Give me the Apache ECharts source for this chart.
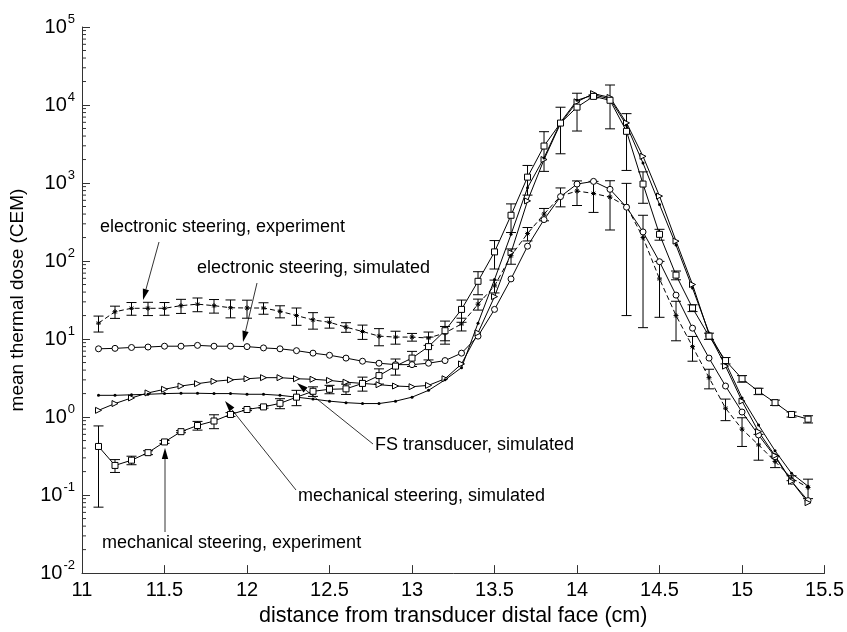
<!DOCTYPE html>
<html>
<head>
<meta charset="utf-8">
<title>mean thermal dose</title>
<script src="https://cdn.jsdelivr.net/npm/echarts@6.0.0/dist/echarts.min.js"></script>
<style>
  html, body { margin: 0; padding: 0; background: #fff; }
  #chart { width: 847px; height: 632px; }
</style>
</head>
<body>
<div id="chart"></div>
<script>
// distance from transducer distal face (cm)
var xs = [11.1, 11.2, 11.3, 11.4, 11.5, 11.6, 11.7, 11.8, 11.9, 12.0,
  12.1, 12.2, 12.3, 12.4, 12.5, 12.6, 12.7, 12.8, 12.9, 13.0,
  13.1, 13.2, 13.3, 13.4, 13.5, 13.6, 13.7, 13.8, 13.9, 14.0,
  14.1, 14.2, 14.3, 14.4, 14.5, 14.6, 14.7, 14.8, 14.9, 15.0,
  15.1, 15.2, 15.3, 15.4]

// electronic steering, experiment (mean, sd)
var elecExp = [16, 22.4, 24.8, 24.8, 24.8, 26.8, 28, 26.8, 25.2, 25,
  25, 22.7, 20, 17.6, 16.4, 14.2, 12.5, 10.9, 10.6, 10.6,
  10.3, 12, 15.6, 28, 48, 117, 225, 400, 680, 790,
  735, 660, 505, 200, 59, 20, 8, 3.2, 1.3, 0.7,
  0.44, 0.27, 0.165, 0.125]
var elecExpSd = [3.7, 4, 4.6, 4.8, 4.6, 5.5, 5.6, 5.3, 6.5, 6.5,
  4.2, 4, 5, 4.2, 2.6, 2, 2.6, 2.7, 2, 1.2,
  2, 2.5, 2.9, 4.5, 9, 26, 44, 72, 185, 275,
  315, 410, 485, 186, 40, 10.5, 2.8, 0.9, 0.4, 0.28,
  0.16, 0.045, 0.012, 0.035]

// electronic steering, simulated
var elecSim = [7.5, 7.6, 7.8, 7.9, 8.1, 8.1, 8.3, 8.1, 8.1, 8.0,
  7.7, 7.5, 7.1, 6.6, 6.2, 5.7, 5.2, 4.9, 4.7, 4.7,
  4.9, 5.3, 6.6, 10.9, 24, 59, 155, 340, 670, 970,
  1050, 830, 490, 236, 98, 36.6, 13.8, 5.7, 2.5, 1.16,
  0.59, 0.31, 0.15, 0.085]

// FS transducer, simulated
var fsSim = [1.22, 1.49, 1.76, 2.04, 2.27, 2.5, 2.68, 2.87, 3.0, 3.1,
  3.2, 3.2, 3.1, 3.05, 2.95, 2.8, 2.7, 2.6, 2.5, 2.45,
  2.55, 3.1, 4.8, 12, 35, 128, 590, 2000, 5800, 11000,
  14000, 12500, 5900, 2200, 680, 180, 50, 11.5, 4.5, 1.6,
  0.65, 0.32, 0.15, 0.08]

// mechanical steering, simulated
var mechSim = [1.9, 1.9, 1.93, 1.96, 2.0, 2.02, 2.02, 2.0, 2.0, 1.96,
  1.96, 1.9, 1.8, 1.7, 1.6, 1.53, 1.49, 1.49, 1.6, 1.8,
  2.2, 3.0, 4.3, 16, 58, 220, 870, 2100, 6000, 11500,
  13500, 12000, 5500, 1800, 530, 160, 45, 12, 5.0, 1.76,
  0.79, 0.37, 0.19, 0.13]

// mechanical steering, experiment (mean, sd)
var mechExp = [0.42, 0.24, 0.28, 0.35, 0.48, 0.65, 0.78, 0.89, 1.08, 1.25,
  1.35, 1.5, 1.8, 2.14, 2.27, 2.3, 2.7, 3.4, 4.5, 5.7,
  8.0, 12.8, 24, 55, 131, 386, 1190, 2980, 5870, 9400,
  12900, 11500, 4600, 970, 220, 66, 25, 10.9, 5.3, 3.1,
  2.14, 1.53, 1.08, 0.94]
var mechExpSd = [0.35, 0.045, 0.035, 0.02, 0.02, 0.02, 0.1, 0.18, 0.06, 0.04,
  0.05, 0.22, 0.4, 0.3, 0.28, 0.35, 0.55, 0.75, 1.05, 1.25,
  2.6, 4.2, 7.6, 18, 52, 154, 490, 1570, 3500, 4760,
  600, 6550, 3150, 420, 35, 8.5, 2.5, 1, 0.5, 0.3,
  0.2, 0.12, 0.08, 0.1]

var xTicks = [11, 11.5, 12, 12.5, 13, 13.5, 14, 14.5, 15, 15.5]
var yMin = 1e-2, yMax = 1e5

var chart = echarts.init(document.getElementById('chart'))
var font = 'Liberation Sans, Arial, Helvetica, sans-serif'

function pairs (vals) {
  return xs.map(function (x, i) { return [x, vals[i]] })
}

function lineSeries (name, vals, extra) {
  var s = {
    name: name,
    type: 'line',
    data: pairs(vals),
    showAllSymbol: true,
    symbolSize: 6,
    lineStyle: { color: '#000', width: 1 },
    itemStyle: { color: '#fff', borderColor: '#000', borderWidth: 1 },
    emphasis: { disabled: true },
    animation: false,
    z: 3
  }
  for (var k in extra) s[k] = extra[k]
  return s
}

// error bars drawn through the axis scales
function errSeries (vals, sds) {
  return {
    type: 'custom',
    data: xs.map(function (x, i) {
      return [x, Math.max(vals[i] - sds[i], yMin), vals[i] + sds[i]]
    }),
    encode: { x: 0, y: [1, 2] },
    silent: true,
    animation: false,
    z: 2,
    renderItem: function (params, api) {
      var top = api.coord([api.value(0), api.value(2)])
      var bot = api.coord([api.value(0), api.value(1)])
      var w = 5
      var st = { stroke: '#000', lineWidth: 1 }
      return {
        type: 'group',
        children: [
          { type: 'line', shape: { x1: top[0], y1: top[1], x2: bot[0], y2: bot[1] }, style: st },
          { type: 'line', shape: { x1: top[0] - w, y1: top[1], x2: top[0] + w, y2: top[1] }, style: st },
          { type: 'line', shape: { x1: bot[0] - w, y1: bot[1], x2: bot[0] + w, y2: bot[1] }, style: st }
        ]
      }
    }
  }
}

// minor log ticks 2..9 on the y axis
var minorVals = []
for (var e = -2; e < 5; e++) {
  for (var m = 2; m <= 9; m++) minorVals.push(m * Math.pow(10, e))
}

var minorTickSeries = {
  type: 'custom',
  data: minorVals.map(function (v) { return [11, v] }),
  silent: true,
  animation: false,
  clip: false,
  renderItem: function (params, api) {
    var p = api.coord([api.value(0), api.value(1)])
    return {
      type: 'line',
      shape: { x1: p[0], y1: p[1], x2: p[0] + 4, y2: p[1] },
      style: { stroke: '#333', lineWidth: 1 }
    }
  }
}

// annotations: text + arrow (pixel layout)
var notes = [
  { text: 'electronic steering, experiment', x: 100, y: 229, from: [159, 242], to: [143, 300] },
  { text: 'electronic steering, simulated', x: 197, y: 270, from: [257, 283], to: [243, 342] },
  { text: 'FS transducer, simulated', x: 375, y: 447, from: [373, 444], to: [297, 383] },
  { text: 'mechanical steering, simulated', x: 298, y: 498, from: [296, 490], to: [225, 401] },
  { text: 'mechanical steering, experiment', x: 102, y: 545, from: [165, 532], to: [165, 448] }
]

var graphics = []
notes.forEach(function (n) {
  graphics.push({
    type: 'text', left: n.x, top: n.y - 11, z: 10,
    style: { text: n.text, font: '18px ' + font, fill: '#000' }
  })
  var dx = n.to[0] - n.from[0], dy = n.to[1] - n.from[1]
  var len = Math.sqrt(dx * dx + dy * dy)
  var ux = dx / len, uy = dy / len
  var hl = 11, hw = 3.2
  var bx = n.to[0] - ux * hl, by = n.to[1] - uy * hl
  graphics.push({
    type: 'line', z: 10,
    shape: { x1: n.from[0], y1: n.from[1], x2: bx, y2: by },
    style: { stroke: '#000', lineWidth: 0.8 }
  })
  graphics.push({
    type: 'polygon', z: 10,
    shape: { points: [n.to, [bx - uy * hw, by + ux * hw], [bx + uy * hw, by - ux * hw]] },
    style: { fill: '#000' }
  })
})

chart.setOption({
  backgroundColor: '#fff',
  animation: false,
  grid: { left: 82, right: 20, top: 27, bottom: 57 },
  xAxis: {
    type: 'value',
    min: 11,
    max: 15.5,
    interval: 0.5,
    name: 'distance from transducer distal face (cm)',
    nameLocation: 'middle',
    nameGap: 31,
    nameTextStyle: { fontFamily: font, fontSize: 21.5, color: '#000' },
    axisLine: { lineStyle: { color: '#333', width: 1 } },
    axisTick: { inside: true, length: 8, lineStyle: { color: '#333' } },
    axisLabel: {
      margin: 7, fontFamily: font, fontSize: 20, color: '#000',
      customValues: xTicks
    },
    splitLine: { show: false }
  },
  yAxis: {
    type: 'log',
    logBase: 10,
    min: yMin,
    max: yMax,
    name: 'mean thermal dose (CEM)',
    nameLocation: 'middle',
    nameGap: 55,
    nameTextStyle: { fontFamily: font, fontSize: 19, color: '#000' },
    axisLine: { show: true, lineStyle: { color: '#333', width: 1 } },
    axisTick: { show: true, inside: true, length: 8, lineStyle: { color: '#333' } },
    axisLabel: {
      margin: 7,
      formatter: function (v) {
        var p = Math.round(Math.log10(v))
        return '{b|10}{s|' + p + '}'
      },
      rich: {
        b: { fontFamily: font, fontSize: 20, color: '#000', lineHeight: 20 },
        s: { fontFamily: font, fontSize: 13, color: '#000', lineHeight: 13, padding: [0, 0, 15, 1] }
      }
    },
    splitLine: { show: false }
  },
  graphic: graphics,
  series: [
    minorTickSeries,
    errSeries(elecExp, elecExpSd),
    errSeries(mechExp, mechExpSd),
    lineSeries('electronic steering, experiment', elecExp, {
      symbol: 'path://M5,0L5,10M0,5L10,5M1.5,1.5L8.5,8.5M8.5,1.5L1.5,8.5',
      symbolSize: 5,
      lineStyle: { color: '#000', width: 1, type: [5, 3] },
      itemStyle: { color: 'none', borderColor: '#000', borderWidth: 1 }
    }),
    lineSeries('electronic steering, simulated', elecSim, { symbol: 'circle', symbolSize: 6 }),
    lineSeries('FS transducer, simulated', fsSim, { symbol: 'triangle', symbolSize: 6, symbolRotate: -90 }),
    lineSeries('mechanical steering, simulated', mechSim, {
      symbol: 'circle', symbolSize: 3,
      itemStyle: { color: '#000', borderColor: '#000', borderWidth: 0 }
    }),
    lineSeries('mechanical steering, experiment', mechExp, { symbol: 'rect', symbolSize: 6 })
  ]
})
</script>
</body>
</html>
